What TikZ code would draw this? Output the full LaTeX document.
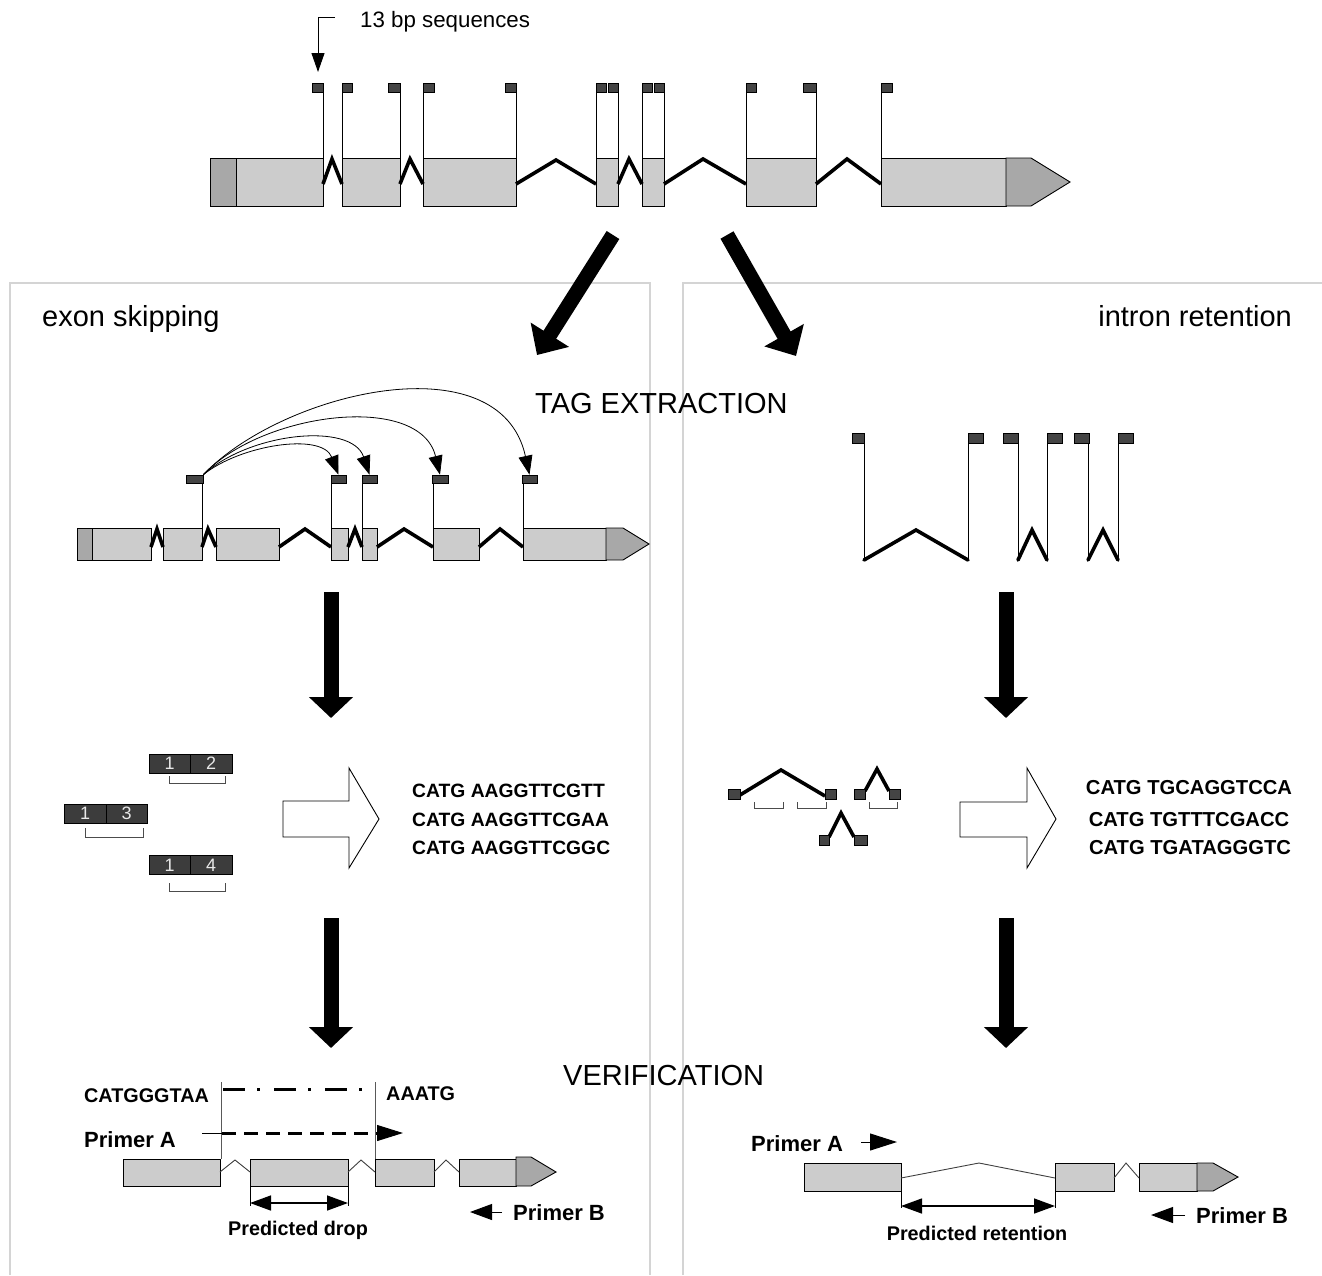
\documentclass[tikz,border=0pt]{standalone}
\usepackage{fontspec}
\setmainfont{Liberation Sans}
\usetikzlibrary{arrows.meta}
\definecolor{exgrey}{HTML}{CCCCCC}
\definecolor{utrgrey}{HTML}{A8A8A8}
\definecolor{tagdark}{HTML}{444444}
\definecolor{blkdark}{HTML}{3C3C3C}
\definecolor{panelgrey}{HTML}{D4D4D4}
\definecolor{numgrey}{HTML}{E8E8E8}
\begin{document}
\begin{tikzpicture}[x=1pt,y=-1pt,
 exon/.style={fill=exgrey,draw=black,line width=0.9pt},
 utr/.style={fill=utrgrey,draw=black,line width=0.9pt},
 tagsq/.style={fill=tagdark,draw=black,line width=0.6pt},
 tagnode/.style={fill=tagdark,draw=black,line width=0.6pt,inner sep=0pt,minimum height=8pt,minimum width=15pt},
 stem/.style={draw=black,line width=0.8pt},
 intron/.style={draw=black,line width=3.6pt},
 thinintron/.style={draw=black!75,line width=0.9pt},
 bigarrow/.style={line width=15pt,-{Triangle[length=24pt,width=44pt]}},
 downarrow/.style={line width=15pt,-{Triangle[length=21pt,width=43pt]}},
 curvearrow/.style={line width=0.8pt,-{Triangle[length=19pt,width=14pt]}},
 panel/.style={draw=panelgrey,line width=1.2pt},
 biglbl/.style={inner sep=0pt,font=\fontsize{29}{34}\selectfont},
 smlbl/.style={inner sep=0pt,font=\fontsize{22.3}{26}\selectfont},
 seq/.style={inner sep=0pt,font=\bfseries\fontsize{19.3}{23}\selectfont},
 seqr/.style={inner sep=0pt,font=\bfseries\fontsize{20.2}{24}\selectfont},
 primer/.style={inner sep=0pt,font=\bfseries\fontsize{22}{26}\selectfont},
 pred/.style={inner sep=0pt,font=\bfseries\fontsize{19.8}{23}\selectfont},
 blk/.style={fill=blkdark,draw=black,line width=0.8pt,inner sep=0pt,minimum width=41.5pt,minimum height=19pt,text=numgrey,font=\fontsize{18}{20}\selectfont},
 brk/.style={draw=black!70,line width=1pt},
 hollow/.style={fill=white,draw=black,line width=0.9pt},
 primarrow/.style={line width=1pt,-{Triangle[length=26pt,width=16pt]}},
 dblarrow/.style={line width=1.5pt,{Triangle[length=21pt,width=15pt]}-{Triangle[length=21pt,width=15pt]}}
]
\useasboundingbox (0,0) rectangle (1322,1275);

% ---------------- panels ----------------
\draw[panel] (10,1275) -- (10,283) -- (650,283) -- (650,1275);
\draw[panel] (683,1275) -- (683,283) -- (1322,283);

% ---------------- top gene ----------------
\draw[utr] (210,158) rectangle (236,206);
\foreach \a/\b in {236/323,342/400,423/516,596/618,642/664,746/816,881/1006}
  \draw[exon] (\a,158) rectangle (\b,206);
\draw[utr] (1006,158) -- (1031,158) -- (1070,182) -- (1031,206) -- (1006,206) -- cycle;
\draw[intron] (323,184) -- (332,159) -- (342,184);
\draw[intron] (400,184) -- (410,159) -- (423,184);
\draw[intron] (516,184) -- (556,160) -- (596,184);
\draw[intron] (618,184) -- (629,159) -- (642,184);
\draw[intron] (664,184) -- (703,159) -- (746,184);
\draw[intron] (816,184) -- (847,159) -- (881,184);
\foreach \a/\b/\s in {312/323/323,342/352/342,388/400/400,423/434/423,505/516/516,596/606/596,608/618/618,642/652/642,654/664/664,746/756/746,803/816/816,881/892/881}{
  \draw[stem] (\s,92) -- (\s,158);
  \draw[tagsq] (\a,83) rectangle (\b,92);
}
\node[smlbl,anchor=base west] (lbl13) at (360,27) {13 bp sequences};
\coordinate (c13a) at (335,17);
\coordinate (c13b) at (318,72);
\draw[line width=1pt,-{Triangle[length=19pt,width=13pt]}] (c13a) -- (318,17) -- (c13b);

% ---------------- big diagonal arrows ----------------
\coordinate (dl0) at (613,235); \coordinate (dl1) at (537,355);
\coordinate (dr0) at (727,235); \coordinate (dr1) at (796,356);
\draw[bigarrow] (dl0) -- (dl1);
\draw[bigarrow] (dr0) -- (dr1);

% ---------------- labels ----------------
\node[biglbl,anchor=base west] (lexon) at (42,326) {exon skipping};
\node[biglbl,anchor=base east] (lintron) at (1292,326) {intron retention};
\node[biglbl,anchor=base west] (ltag) at (535,413) {TAG EXTRACTION};
\node[biglbl,anchor=base west] (lver) at (563,1085) {VERIFICATION};

% ---------------- exon skipping gene ----------------
\draw[utr] (77,528) rectangle (92,560);
\foreach \a/\b in {92/151,163/202,216/279,331/348,362/377,433/479,523/606}
  \draw[exon] (\a,528) rectangle (\b,560);
\draw[utr] (606,528) -- (623,528) -- (649,544) -- (623,560) -- (606,560) -- cycle;
\draw[intron] (151,547) -- (157,529) -- (163,547);
\draw[intron] (202,547) -- (208,529) -- (216,547);
\draw[intron] (279,547) -- (305,529) -- (331,547);
\draw[intron] (348,547) -- (355,529) -- (362,547);
\draw[intron] (377,547) -- (404,529) -- (433,547);
\draw[intron] (479,547) -- (500,529) -- (523,547);
\draw[stem] (202.5,483) -- (202.5,528);
\draw[stem] (331,483) -- (331,528);
\draw[stem] (362,483) -- (362,528);
\draw[stem] (433,483) -- (433,528);
\draw[stem] (523,483) -- (523,528);
\node[tagnode,minimum width=17pt] (sA) at (194.5,479) {};
\node[tagnode,minimum width=15pt] (sB) at (338.5,479) {};
\node[tagnode,minimum width=15pt] (sC) at (369.5,479) {};
\node[tagnode,minimum width=16pt] (sD) at (440,479) {};
\node[tagnode,minimum width=15pt] (sE) at (529.5,479) {};
\draw[curvearrow] (sA.north east) .. controls (240,445) and (322,432) .. (sB.north);
\draw[curvearrow] (sA.north east) .. controls (250,432) and (352,422) .. (sC.north);
\draw[curvearrow] (sA.north east) .. controls (262,412) and (420,392) .. (sD.north);
\draw[curvearrow] (sA.north east) .. controls (282,392) and (500,340) .. (sE.north);

% ---------------- intron retention gene ----------------
\draw[stem] (864,443) -- (864,560);
\draw[stem] (968,443) -- (968,560);
\draw[stem] (1018,443) -- (1018,560);
\draw[stem] (1047,443) -- (1047,560);
\draw[stem] (1088,443) -- (1088,560);
\draw[stem] (1118,443) -- (1118,560);
\draw[intron,line cap=round] (864,560) -- (916,530) -- (968,560);
\draw[intron,line cap=round] (1018,560) -- (1032,530) -- (1047,560);
\draw[intron,line cap=round] (1088,560) -- (1103,530) -- (1118,560);
\foreach \a/\b in {852/864,968/983,1003/1018,1047/1062,1074/1089,1118/1133}
  \draw[tagsq] (\a,433) rectangle (\b,443);

% ---------------- down arrows ----------------
\draw[downarrow] (331,592) -- (331,718);
\draw[downarrow] (331,918) -- (331,1048);
\draw[downarrow] (1006,592) -- (1006,718);
\draw[downarrow] (1006,918) -- (1006,1048);

% ---------------- tag blocks (left) ----------------
\node[blk] (b12a) at (169.75,763.5) {1};
\node[blk] (b12b) at (211.25,763.5) {2};
\draw[brk] (169,776) -- (169,783) -- (225,783) -- (225,776);
\node[blk] (b13a) at (85.25,813.5) {1};
\node[blk] (b13b) at (126.75,813.5) {3};
\draw[brk] (85.6,828) -- (85.6,837) -- (143.8,837) -- (143.8,828);
\node[blk] (b14a) at (169.75,865) {1};
\node[blk] (b14b) at (211.25,865) {4};
\draw[brk] (169,883) -- (169,891) -- (225,891) -- (225,883);

\draw[hollow] (283,801) -- (349,801) -- (349,768) -- (379,819) -- (349,868) -- (349,837) -- (283,837) -- cycle;
\node[seq,anchor=base west] (sq1) at (412,797) {CATG AAGGTTCGTT};
\node[seq,anchor=base west] (sq2) at (412,826) {CATG AAGGTTCGAA};
\node[seq,anchor=base west] (sq3) at (412,854) {CATG AAGGTTCGGC};

% ---------------- tag fragments (right) ----------------
\draw[intron] (740,795) -- (781,770) -- (825,796);
\draw[intron] (865,791) -- (877,769) -- (889,791);
\draw[intron] (829,837) -- (841,813) -- (854,837);
\draw[tagsq] (728,789) rectangle (740,799);
\draw[tagsq] (825,789) rectangle (836,799);
\draw[tagsq] (854,789) rectangle (865,799);
\draw[tagsq] (889,789) rectangle (900,799);
\draw[tagsq] (819,835) rectangle (829,845);
\draw[tagsq] (854,835) rectangle (867,845);
\draw[brk] (754,802) -- (754,808) -- (783,808) -- (783,802);
\draw[brk] (797,802) -- (797,808) -- (826.5,808) -- (826.5,802);
\draw[brk] (869,802) -- (869,808) -- (897,808) -- (897,802);

\draw[hollow] (960,802) -- (1027,802) -- (1027,768) -- (1056,819) -- (1027,868) -- (1027,837) -- (960,837) -- cycle;
\node[seqr,anchor=base] (sr1) at (1189,794) {CATG TGCAGGTCCA};
\node[seqr,anchor=base] (sr2) at (1189,826) {CATG TGTTTCGACC};
\node[seqr,anchor=base] (sr3) at (1190,854) {CATG TGATAGGGTC};

% ---------------- verification (left) ----------------
\node[pred,anchor=base west] (vcat) at (84,1102) {CATGGGTAA};
\node[pred,anchor=base west] (vaaa) at (386,1100) {AAATG};
\node[primer,anchor=base west] (pAl) at (84,1147) {Primer A};
\draw[draw=black!65,line width=1pt] (221,1082) -- (221,1159);
\draw[draw=black!65,line width=1pt] (375,1082) -- (375,1159);
\draw[line width=3pt,dash pattern=on 22pt off 12pt on 3pt off 14pt] (223,1089) -- (368,1089);
\draw[line width=1pt] (202,1133) -- (222,1133);
\draw[line width=3pt,dash pattern=on 14pt off 8pt] (222,1133) -- (378,1133);
\coordinate (pAtipL) at (403,1133);
\draw[primarrow] (376,1133) -- (pAtipL);
\foreach \a/\b in {123/220,250/348,375/434,459/516}
  \draw[exon] (\a,1159) rectangle (\b,1186);
\draw[utr] (516,1157) -- (531,1157) -- (556,1172) -- (531,1186) -- (516,1186) -- cycle;
\draw[thinintron] (220,1172) -- (235,1160) -- (250,1172);
\draw[thinintron] (348,1172) -- (361,1160) -- (375,1172);
\draw[thinintron] (434,1172) -- (446,1160) -- (459,1172);
\draw[line width=1pt] (250,1186) -- (250,1206);
\draw[line width=1pt] (348,1186) -- (348,1206);
\draw[dblarrow] (250,1203) -- (348,1203);
\node[pred,anchor=base] (pdrop) at (298,1235) {Predicted drop};
\node[primer,anchor=base west] (pBl) at (513,1220) {Primer B};
\draw[primarrow,-{Triangle[length=22pt,width=16pt]}] (502,1212) -- (470,1212);

% ---------------- verification (right) ----------------
\node[primer,anchor=base west] (pAr) at (751,1151) {Primer A};
\draw[primarrow,-{Triangle[length=27pt,width=17pt]}] (861,1142) -- (897,1142);
\draw[exon] (804,1163) rectangle (901,1191);
\draw[exon] (1055,1163) rectangle (1114,1191);
\draw[exon] (1139,1163) rectangle (1197,1191);
\draw[utr] (1197,1163) -- (1213,1163) -- (1238,1177) -- (1213,1191) -- (1197,1191) -- cycle;
\draw[thinintron] (901,1178) -- (979,1163) -- (1055,1178);
\draw[thinintron] (1114,1178) -- (1126,1163) -- (1139,1178);
\draw[line width=1pt] (901,1191) -- (901,1208);
\draw[line width=1pt] (1055,1191) -- (1055,1208);
\draw[dblarrow] (901,1206) -- (1055,1206);
\node[pred,anchor=base] (pret) at (977,1240) {Predicted retention};
\node[primer,anchor=base west] (pBr) at (1196,1223) {Primer B};
\draw[primarrow,-{Triangle[length=22pt,width=16pt]}] (1185,1215) -- (1151,1215);
\end{tikzpicture}
\end{document}
